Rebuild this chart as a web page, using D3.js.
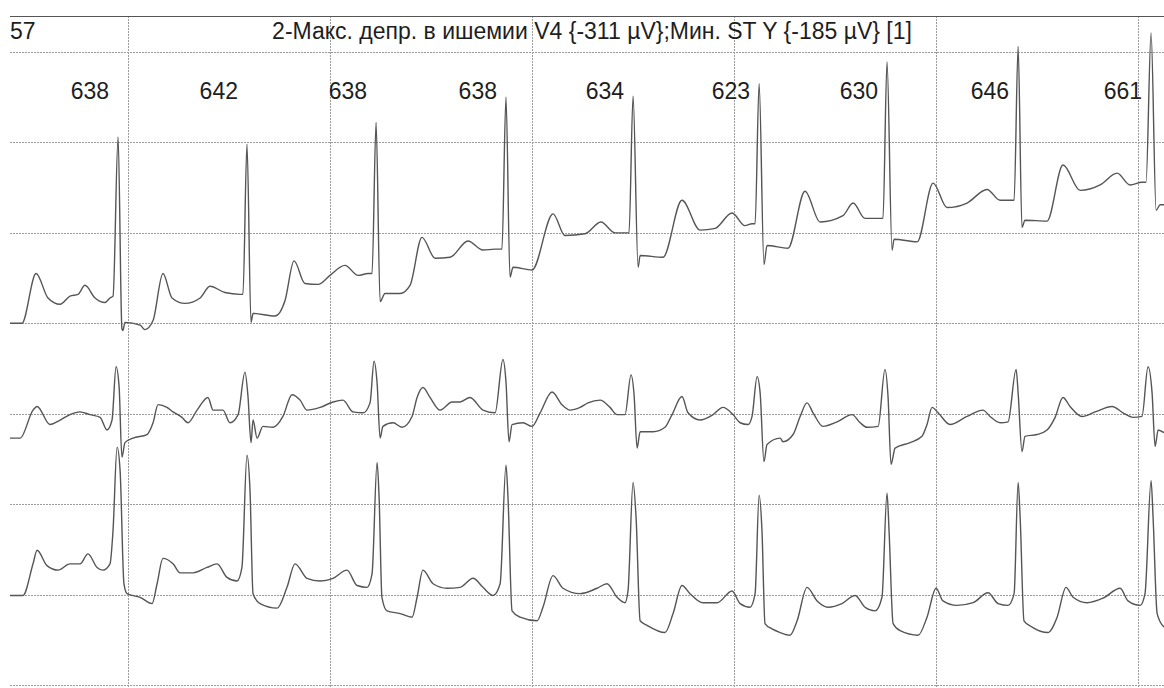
<!DOCTYPE html>
<html>
<head>
<meta charset="utf-8">
<script src="https://cdn.jsdelivr.net/npm/d3@7"></script>
<style>
  html, body { margin: 0; padding: 0; background: #fff; }
  svg { display: block; }
  text { font-family: "Liberation Sans", Arial, sans-serif; fill: #1e1e1e; }
</style>
</head>
<body>
<svg id="chart" width="1164" height="688"></svg>
<script>
// strip header
const stripNo = "57";
const title = "2-Макс. депр. в ишемии V4 {-311 µV};Мин. ST Y {-185 µV} [1]";

// R peak times (ms from strip start) and RR interval labels (ms)
const rPeaks = [535, 1173, 1812, 2455, 3084, 3708, 4341, 4990, 5648];
const rrLabels = [638, 642, 638, 638, 634, 623, 630, 646, 661];

// grid: seconds marks (ms) and 1 mV levels (µV)
const secondTicks = [584, 1584, 2584, 3584, 4584, 5584];
const levelTicks = [0, 1000, 2000, 3000, 4000, 5000, 6000, 7000];

// channel baselines (µV on the shared level axis)
const baselines = [4000, 3000, 1000];

// traced samples [ms, µV relative to channel baseline]
const ch1 = [[0,0],[59,0],[129,550],[188,280],[248,210],[297,300],[337,320],[371,420],[421,280],[470,230],[495,280],[510,300],
  [535,2060],[554,-60],[559,-80],[569,10],[644,-20],[668,-70],[708,30],[757,550],[802,280],[866,220],[941,280],[990,410],[1064,340],[1139,320],[1153,320],
  [1173,1980],[1193,10],[1203,110],[1312,80],[1361,250],[1406,690],[1460,440],[1525,430],[1584,530],[1658,640],[1723,530],[1772,550],[1792,550],
  [1812,2220],[1832,240],[1856,330],[1931,330],[1980,420],[2039,950],[2104,720],[2178,730],[2267,910],[2341,810],[2401,820],[2435,820],
  [2455,2500],[2475,510],[2490,620],[2584,590],[2688,1210],[2747,970],[2846,990],[2925,1120],[2995,1000],[3044,1000],[3064,1000],
  [3084,2510],[3109,620],[3119,750],[3232,730],[3326,1360],[3416,1030],[3490,1050],[3574,1220],[3638,1080],[3673,1100],[3688,1100],
  [3708,2650],[3732,650],[3747,860],[3851,830],[3935,1460],[4010,1120],[4123,1190],[4173,1330],[4232,1160],[4297,1160],[4321,1160],
  [4341,2890],[4366,810],[4376,930],[4490,900],[4569,1550],[4638,1280],[4737,1330],[4836,1480],[4901,1360],[4950,1360],[4970,1360],
  [4990,3060],[5009,1060],[5024,1140],[5133,1130],[5212,1750],[5297,1470],[5396,1530],[5480,1660],[5544,1530],[5603,1560],[5623,1560],
  [5648,3210],[5673,1250],[5693,1310],[5712,1310]];

const ch2 = [[0,-270],[50,-270],[114,40],[134,80],[198,-120],[248,-70],[297,-10],[347,20],[396,-10],[446,-40],[480,-180],[505,-70],
  [525,520],[540,300],[554,-480],[569,-320],[609,-270],[678,-230],[708,-100],[733,100],[777,70],[807,20],[851,-40],[881,-100],[926,40],[980,180],[1005,40],[1054,40],[1089,-100],[1129,-10],
  [1163,460],[1178,190],[1193,-320],[1203,-70],[1223,-270],[1252,-140],[1302,-150],[1351,-30],[1396,210],[1436,150],[1470,40],[1535,70],[1599,130],[1648,150],[1698,20],[1748,10],[1782,120],
  [1802,580],[1817,340],[1832,-270],[1846,-140],[1896,-100],[1940,-150],[1990,-30],[2015,180],[2044,290],[2079,180],[2129,40],[2188,130],[2228,130],[2277,180],[2341,40],[2401,10],
  [2440,600],[2455,350],[2470,-310],[2485,-120],[2539,-100],[2584,-140],[2624,10],[2683,240],[2732,100],[2772,40],[2822,70],[2861,120],[2921,150],[2970,70],[3005,-10],[3044,-10],
  [3074,430],[3089,210],[3104,-380],[3119,-200],[3183,-200],[3242,-150],[3277,-10],[3326,190],[3356,10],[3416,-70],[3480,-10],[3529,70],[3579,-10],[3614,-100],[3653,-120],[3673,-30],
  [3698,410],[3713,230],[3732,-530],[3747,-340],[3812,-270],[3826,-310],[3876,-230],[3911,-30],[3945,120],[3975,10],[4024,-140],[4094,-90],[4168,-10],[4208,-100],[4242,-150],[4297,-140],
  [4331,490],[4346,190],[4361,-560],[4381,-380],[4455,-320],[4514,-250],[4539,-120],[4564,70],[4594,10],[4653,-120],[4737,-30],[4816,40],[4851,-30],[4901,-100],[4940,-90],
  [4980,490],[4990,230],[5009,-420],[5024,-250],[5084,-230],[5133,-180],[5173,-40],[5212,180],[5247,80],[5306,-30],[5371,20],[5455,80],[5509,10],[5559,-40],[5603,-30],
  [5633,520],[5653,230],[5668,-360],[5683,-180],[5712,-210]];

const ch3 = [[0,-10],[64,-10],[114,340],[134,490],[183,320],[238,270],[297,340],[347,340],[386,450],[431,300],[460,270],[495,340],[510,710],
  [530,1630],[545,1370],[564,120],[579,10],[644,-30],[703,-100],[728,120],[757,400],[807,340],[842,240],[906,240],[975,300],[1025,340],[1074,190],[1124,150],[1148,300],
  [1173,1540],[1188,1150],[1203,10],[1238,-100],[1322,-150],[1371,80],[1411,340],[1470,180],[1535,150],[1599,180],[1668,270],[1718,100],[1767,80],[1792,230],
  [1817,1460],[1827,1070],[1841,-30],[1866,-180],[1931,-210],[1990,-250],[2015,-30],[2044,270],[2094,120],[2163,70],[2228,80],[2292,180],[2341,80],[2391,-10],[2426,120],
  [2455,1430],[2465,1070],[2485,-180],[2525,-250],[2609,-290],[2638,-140],[2688,210],[2737,70],[2822,10],[2906,70],[2955,120],[3005,-30],[3044,-90],[3059,40],
  [3084,1240],[3099,850],[3119,-290],[3153,-340],[3242,-420],[3282,-210],[3326,100],[3366,10],[3430,-90],[3500,-90],[3574,40],[3614,-100],[3663,-140],[3688,10],
  [3708,1100],[3722,710],[3737,-320],[3772,-380],[3812,-420],[3861,-450],[3896,-290],[3945,80],[3995,-70],[4049,-140],[4118,-100],[4183,-10],[4232,-140],[4282,-180],[4316,-30],
  [4341,1120],[4351,710],[4371,-320],[4406,-400],[4495,-450],[4539,-250],[4584,70],[4618,-70],[4688,-120],[4767,-90],[4841,20],[4891,-100],[4940,-120],[4970,10],
  [4990,1240],[5000,850],[5019,-290],[5059,-360],[5138,-420],[5183,-250],[5227,80],[5262,-30],[5331,-90],[5410,-40],[5495,70],[5534,-70],[5594,-120],[5618,10],
  [5648,1260],[5658,850],[5678,-210],[5712,-360]];

const channels = [ch1, ch2, ch3];

const svg = d3.select("#chart");
const margin = { left: 10, right: 1164, top: 52, bottom: 685, frame: 16 };

const x = d3.scaleLinear().domain([0, 5712]).range([margin.left, margin.right]);
const y = d3.scaleLinear().domain([0, 7000]).range([margin.bottom, margin.top]);

// dotted grid
const grid = svg.append("g").attr("stroke", "#9c9c9c").attr("stroke-width", 1).attr("stroke-dasharray", "2,1");
grid.selectAll(".h").data(levelTicks).join("line")
  .attr("x1", margin.left).attr("x2", margin.right)
  .attr("y1", (d) => Math.round(y(d)) + 0.5).attr("y2", (d) => Math.round(y(d)) + 0.5);
grid.selectAll(".v").data(secondTicks).join("line")
  .attr("x1", (d) => Math.round(x(d)) + 0.5).attr("x2", (d) => Math.round(x(d)) + 0.5)
  .attr("y1", margin.frame).attr("y2", 688);

// top frame line
svg.append("line")
  .attr("x1", margin.left).attr("x2", margin.right)
  .attr("y1", margin.frame + 0.5).attr("y2", margin.frame + 0.5)
  .attr("stroke", "#555").attr("stroke-width", 1);

// traces
const line = d3.line().x((d) => x(d[0])).y((d) => d.y).curve(d3.curveMonotoneX);
channels.forEach((ch, i) => {
  const pts = ch.map((d) => {
    const p = [d[0], d[1]];
    p.y = y(baselines[i] + d[1]);
    return p;
  });
  svg.append("path")
    .datum(pts)
    .attr("fill", "none")
    .attr("stroke", "#555")
    .attr("stroke-width", 1.4)
    .attr("stroke-linejoin", "round")
    .attr("d", line);
});

// header text
svg.append("text").attr("x", 10).attr("y", 39).attr("font-size", 23).text(stripNo);
svg.append("text").attr("x", 592).attr("y", 39).attr("font-size", 23)
  .attr("text-anchor", "middle").text(title);

// RR labels, right aligned just before each R peak
svg.selectAll(".rr").data(rPeaks).join("text")
  .attr("x", (d) => x(d) - 9)
  .attr("y", 99)
  .attr("font-size", 23)
  .attr("text-anchor", "end")
  .text((d, i) => rrLabels[i]);
</script>
</body>
</html>
